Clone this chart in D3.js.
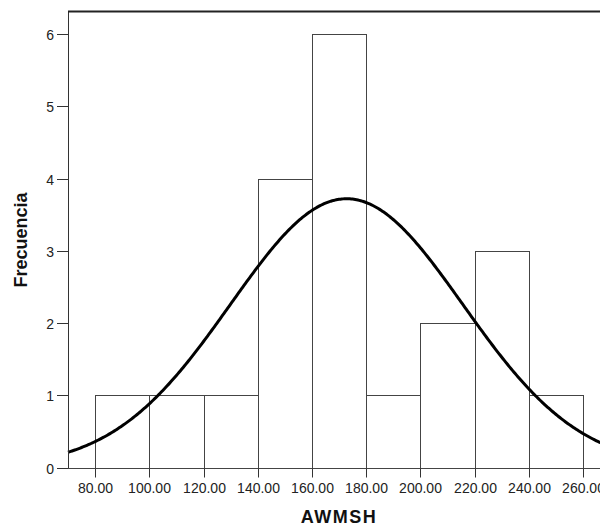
<!DOCTYPE html>
<html>
<head>
<meta charset="utf-8">
<script src="https://cdn.jsdelivr.net/npm/d3@7"></script>
<style>
	body { margin: 0; background: #fff; }
	svg { display: block; }
	.tick-label { font-family: "Liberation Sans", Arial, sans-serif; font-size: 14px; fill: #222; }
	.axis-title { font-family: "Liberation Sans", Arial, sans-serif; font-size: 18px; font-weight: bold; fill: #111; }
</style>
</head>
<body>
<div id="chart"></div>
<script>
	// histogram bins (lower edge) and their counts
	var binStarts = [80, 100, 120, 140, 160, 180, 200, 220, 240];
	var counts = [1, 1, 1, 4, 6, 1, 2, 3, 1];
	var binWidth = 20;
	var xTicks = [80, 100, 120, 140, 160, 180, 200, 220, 240, 260];
	var yTicks = [0, 1, 2, 3, 4, 5, 6];
	// fitted normal curve
	var curveMean = 172.8,
		curveSd = 42.9,
		curveN = 20;

	var chartWidth = 600,
		chartHeight = 529,
		left = 68,
		x = d3.scaleLinear().domain([70, 270]).range([left, 610]),
		y = d3.scaleLinear().domain([0, 6]).range([467.5, 34]),
		yTop = 6.32;

	var svg = d3.select("#chart")
		.append("svg")
		.attr("width", chartWidth)
		.attr("height", chartHeight);

	// bars
	svg.selectAll(".bar")
		.data(binStarts)
		.enter()
		.append("rect")
		.attr("class", "bar")
		.attr("x", function(d) { return Math.round(x(d)) + 0.5; })
		.attr("y", function(d, i) { return Math.round(y(counts[i])) + 0.5; })
		.attr("width", function(d) { return Math.round(x(d + binWidth)) - Math.round(x(d)); })
		.attr("height", function(d, i) { return Math.round(y(0)) - Math.round(y(counts[i])); })
		.style("fill", "#fff")
		.style("stroke", "#444")
		.style("stroke-width", 1);

	// normal curve
	var pts = d3.range(70, 270.5, 0.5).map(function(v) {
		var z = (v - curveMean) / curveSd;
		var f = curveN * binWidth * Math.exp(-0.5 * z * z) / (curveSd * Math.sqrt(2 * Math.PI));
		return [x(v), y(f)];
	});
	svg.append("path")
		.attr("d", d3.line()(pts))
		.style("fill", "none")
		.style("stroke", "#000")
		.style("stroke-width", 3);

	// frame: top and left, bottom axis
	var y0 = Math.round(y(0)) + 0.5;
	svg.append("line")
		.attr("x1", left + 0.5).attr("x2", left + 0.5)
		.attr("y1", Math.round(y(yTop))).attr("y2", y0)
		.style("stroke", "#333");
	svg.append("line")
		.attr("x1", left).attr("x2", chartWidth)
		.attr("y1", Math.round(y(yTop)) + 0.5).attr("y2", Math.round(y(yTop)) + 0.5)
		.style("stroke", "#222")
		.style("stroke-width", 2);
	svg.append("line")
		.attr("x1", left).attr("x2", chartWidth)
		.attr("y1", y0).attr("y2", y0)
		.style("stroke", "#444");

	// y ticks
	var yt = svg.selectAll(".ytick")
		.data(yTicks)
		.enter()
		.append("g")
		.attr("class", "ytick")
		.attr("transform", function(d) { return "translate(0," + (Math.round(y(d)) + 0.5) + ")"; });
	yt.append("line")
		.attr("x1", left - 11).attr("x2", left)
		.style("stroke", "#333");
	yt.append("text")
		.attr("class", "tick-label")
		.attr("x", left - 14)
		.attr("dy", "0.36em")
		.attr("text-anchor", "end")
		.text(function(d) { return d; });

	// x ticks
	var xt = svg.selectAll(".xtick")
		.data(xTicks)
		.enter()
		.append("g")
		.attr("class", "xtick")
		.attr("transform", function(d) { return "translate(" + (Math.round(x(d)) + 0.5) + ",0)"; });
	xt.append("line")
		.attr("y1", y0).attr("y2", y0 + 9)
		.style("stroke", "#333");
	xt.append("text")
		.attr("class", "tick-label")
		.attr("y", 493)
		.attr("text-anchor", "middle")
		.text(function(d) { return d3.format(".2f")(d); });

	// axis titles
	svg.append("text")
		.attr("class", "axis-title")
		.attr("x", 339)
		.attr("y", 523)
		.attr("text-anchor", "middle")
		.style("letter-spacing", "1.5px")
		.text("AWMSH");
	svg.append("text")
		.attr("class", "axis-title")
		.attr("transform", "translate(27,240) rotate(-90)")
		.attr("text-anchor", "middle")
		.text("Frecuencia");
</script>
</body>
</html>
